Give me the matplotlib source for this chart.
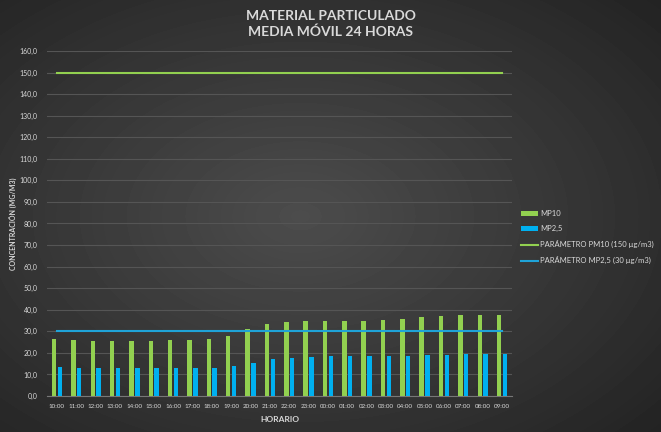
import numpy as np
import matplotlib
matplotlib.use("Agg")
import matplotlib.pyplot as plt
from matplotlib.ticker import FuncFormatter

plt.rcParams['font.family'] = ['Lato', 'DejaVu Sans']

# datos
horas = ["10:00", "11:00", "12:00", "13:00", "14:00", "15:00", "16:00", "17:00",
         "18:00", "19:00", "20:00", "21:00", "22:00", "23:00", "00:00", "01:00",
         "02:00", "03:00", "04:00", "05:00", "06:00", "07:00", "08:00", "09:00"]
mp10 = [26.4, 25.9, 25.7, 25.4, 25.5, 25.7, 25.9, 25.9, 26.4, 27.9, 31.0, 33.5,
        34.4, 34.6, 34.7, 34.6, 34.7, 35.3, 35.9, 36.6, 37.2, 37.4, 37.4, 37.6]
mp25 = [13.3, 13.2, 13.2, 13.0, 13.0, 13.2, 13.0, 13.0, 13.2, 13.8, 15.2, 17.1,
        17.8, 18.1, 18.4, 18.4, 18.4, 18.4, 18.6, 18.9, 19.0, 19.5, 19.5, 19.5]
param_pm10 = 150
param_mp25 = 30

verde = "#92D050"
azul = "#00B0F0"
texto = "#D9D9D9"

fig = plt.figure(figsize=(6.61, 4.32), dpi=100)

# fondo con degradado radial
bg = fig.add_axes([0, 0, 1, 1])
yy, xx = np.mgrid[0:432, 0:661]
r = np.sqrt(((xx - 300) / 661) ** 2 + ((yy - 216) / 432) ** 2)
bg.imshow(0.30 - 0.22 * r, cmap="gray", vmin=0, vmax=1, aspect="auto")
bg.axis("off")

ax = fig.add_axes([0.0716, 0.0833, 0.7025, 0.7987])
ax.patch.set_alpha(0)

x = np.arange(len(horas))
w = 0.23
b1 = ax.bar(x - w / 2 - 0.035, mp10, width=w, color=verde, label="MP10", zorder=3)
b2 = ax.bar(x + w / 2 + 0.035, mp25, width=w, color=azul, label="MP2,5", zorder=3)
l1, = ax.plot([x[0], x[-1]], [param_pm10] * 2, color=verde, lw=1.5,
              label="PARÁMETRO PM10 (150 µg/m3)", zorder=4)
l2, = ax.plot([x[0], x[-1]], [param_mp25] * 2, color="#1FA3D8", lw=1.5,
              label="PARÁMETRO MP2,5 (30 µg/m3)", zorder=4)

ax.set_xlim(-0.5, len(horas) - 0.5)
ax.set_ylim(0, 160)
ax.set_yticks(np.arange(0, 161, 10))
ax.yaxis.set_major_formatter(FuncFormatter(lambda v, p: f"{v:.1f}".replace(".", ",")))
ax.set_xticks(x)
ax.set_xticklabels(horas)
ax.tick_params(colors=texto, length=0)
ax.tick_params(axis="x", labelsize=4.5, pad=6)
ax.tick_params(axis="y", labelsize=5, pad=7)
ax.grid(axis="y", color="#555555", lw=0.8, zorder=0)
for s in ["top", "right", "left"]:
    ax.spines[s].set_visible(False)
ax.spines["bottom"].set_color("#777777")

ax.set_xlabel("HORARIO", color=texto, fontsize=6, fontweight="bold", labelpad=5)
ax.set_ylabel("CONCENTRACIÓN (MG/M3)", color=texto, fontsize=5, fontweight="bold", labelpad=2)

fig.text(0.5, 0.978, "MATERIAL PARTICULADO\nMEDIA MÓVIL 24 HORAS", ha="center", va="top",
         color=texto, fontsize=10, fontweight="bold", linespacing=1.35)

leg = ax.legend([b1, b2, l1, l2], [b1.get_label(), b2.get_label(), l1.get_label(), l2.get_label()],
                loc="center left", bbox_to_anchor=(1.005, 0.46), frameon=False,
                fontsize=5.5, labelcolor=texto, handlelength=2.2, handletextpad=0.3,
                labelspacing=1.05)

fig.savefig("out.png", dpi=100)
